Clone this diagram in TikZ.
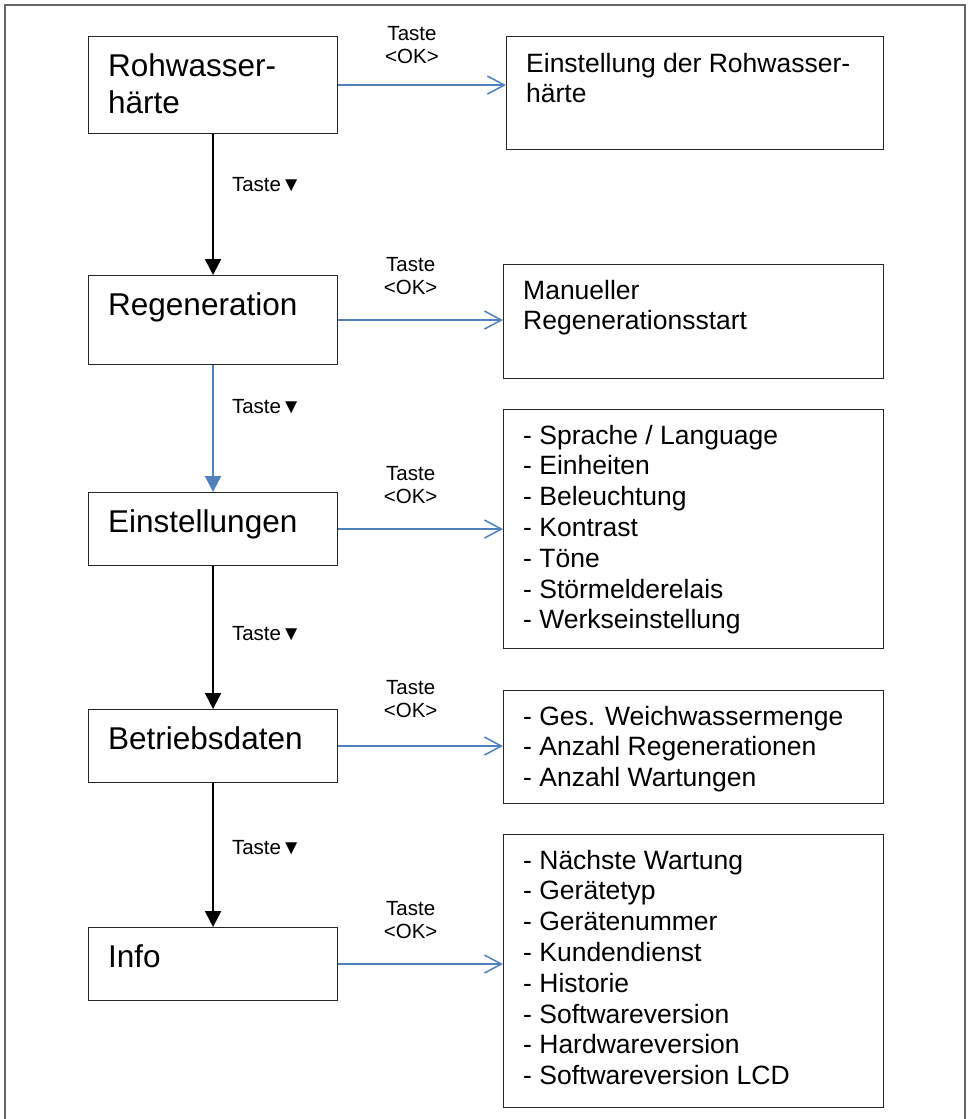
\documentclass[tikz,border=0pt]{standalone}
\usepackage{fontspec}
\setmainfont{Liberation Sans}
\usetikzlibrary{arrows.meta}
\definecolor{okblue}{RGB}{79,129,189}

\begin{document}
\begin{tikzpicture}[x=1pt, y=-1pt]
	\tikzstyle{menubox} = [draw=black!85, line width=1.1pt, anchor=north west, minimum width=249pt, inner sep=0pt]
	\tikzstyle{subbox} = [draw=black!85, line width=1.1pt, anchor=north west, minimum width=380pt, inner sep=0pt]
	\tikzstyle{menutxt} = [anchor=north west, inner sep=0pt, align=left, font=\fontsize{31.5}{37}\selectfont]
	\tikzstyle{subtxt} = [anchor=north west, inner sep=0pt, align=left, font=\fontsize{26.5}{30.8}\selectfont]
	\tikzstyle{keylbl} = [inner sep=0pt, align=center, text=black, font=\fontsize{20.5}{23}\selectfont]
	\tikzstyle{downarrow} = [line width=2pt, -{Triangle[length=16pt, width=16pt]}]
	\tikzstyle{okarrow} = [draw=okblue, line width=1.5pt, -{Straight Barb[length=17pt, width=18pt]}]

	\useasboundingbox (0,0) rectangle (972,1119);
	\draw[black!60, line width=1.2pt] (5,1119) -- (5,5) -- (965,5) -- (965,1119);

	% menu
	\node[menubox, minimum height=97pt] (rohw) at (88,36) {};
	\node[menubox, minimum height=89pt] (regen) at (88,275) {};
	\node[menubox, minimum height=73pt] (einst) at (88,492) {};
	\node[menubox, minimum height=73pt] (betr) at (88,709) {};
	\node[menubox, minimum height=73pt] (info) at (88,927) {};

	\node[menutxt] at ([shift={(20,14)}]rohw.north west) {\strut Rohwasser-\\härte};
	\node[menutxt] at ([shift={(20,14)}]regen.north west) {\strut Regeneration};
	\node[menutxt] at ([shift={(20,14)}]einst.north west) {\strut Einstellungen};
	\node[menutxt] at ([shift={(20,14)}]betr.north west) {\strut Betriebsdaten};
	\node[menutxt] at ([shift={(20,14)}]info.north west) {\strut Info};

	% submenus
	\node[subbox, minimum width=377pt, minimum height=113pt] (opt1) at (506,36) {};
	\node[subbox, minimum height=114pt] (opt2) at (503,264) {};
	\node[subbox, minimum height=239pt] (opt3) at (503,409) {};
	\node[subbox, minimum height=113pt] (opt4) at (503,690) {};
	\node[subbox, minimum height=273pt] (opt5) at (503,834) {};

	\node[subtxt] at ([shift={(20,14.4)}]opt1.north west) {\strut Einstellung der Rohwasser-\\härte};
	\node[subtxt] at ([shift={(20,13.4)}]opt2.north west) {\strut Manueller\\Regenerationsstart};
	\node[subtxt] at ([shift={(20,13.4)}]opt3.north west) {\strut - Sprache / Language\\- Einheiten\\- Beleuchtung\\- Kontrast\\- Töne\\- Störmelderelais\\- Werkseinstellung};
	\node[subtxt] at ([shift={(20,13.4)}]opt4.north west) {\strut - Ges. Weichwassermenge\\- Anzahl Regenerationen\\- Anzahl Wartungen};
	\node[subtxt] at ([shift={(20,13.4)}]opt5.north west) {\strut - Nächste Wartung\\- Gerätetyp\\- Gerätenummer\\- Kundendienst\\- Historie\\- Softwareversion\\- Hardwareversion\\- Softwareversion LCD};

	% Taste down
	\draw[downarrow] (rohw.south) -- node[keylbl, pos=0.36, right=18pt] {Taste▼} (regen.north);
	\draw[downarrow, draw=okblue] (regen.south) -- node[keylbl, pos=0.33, right=18pt] {Taste▼} (einst.north);
	\draw[downarrow] (einst.south) -- node[keylbl, pos=0.47, right=18pt] {Taste▼} (betr.north);
	\draw[downarrow] (betr.south) -- node[keylbl, pos=0.45, right=18pt] {Taste▼} (info.north);

	% Taste OK
	\draw[okarrow] (rohw.east) -- node[keylbl, pos=0.44, above=21pt] {Taste\\<OK>} (opt1.west |- rohw.east);
	\draw[okarrow] (regen.east) -- node[keylbl, pos=0.44, above=25pt] {Taste\\<OK>} (opt2.west |- regen.east);
	\draw[okarrow] (einst.east) -- node[keylbl, pos=0.44, above=25pt] {Taste\\<OK>} (opt3.west |- einst.east);
	\draw[okarrow] (betr.east) -- node[keylbl, pos=0.44, above=28pt] {Taste\\<OK>} (opt4.west |- betr.east);
	\draw[okarrow] (info.east) -- node[keylbl, pos=0.44, above=25pt] {Taste\\<OK>} (opt5.west |- info.east);
\end{tikzpicture}
\end{document}
